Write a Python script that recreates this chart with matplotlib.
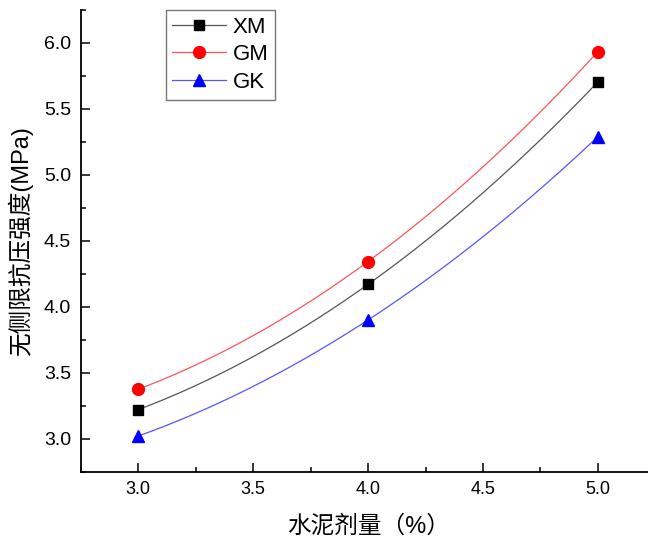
import numpy as np
import matplotlib
matplotlib.use("Agg")
import matplotlib.pyplot as plt
from matplotlib.ticker import MultipleLocator

plt.rcParams['font.family'] = ['Liberation Sans', 'Noto Sans CJK SC', 'DejaVu Sans']

cement = [3.0, 4.0, 5.0]
xm = [3.22, 4.17, 5.705]
gm = [3.375, 4.343, 5.934]
gk = [3.02, 3.90, 5.29]
series_names = ['XM', 'GM', 'GK']
x_label = '水泥剂量（%）'
y_label = '无侧限抗压强度(MPa)'

fig = plt.figure(figsize=(6.48, 5.42), dpi=100)
ax = fig.add_axes([0.1245, 0.1297, 0.887, 0.852])

styles = [
    dict(color='#000000', line='#555555', marker='s', ms=7.5),
    dict(color='#ff0000', line='#ff5555', marker='o', ms=8.5),
    dict(color='#0000ff', line='#5555ff', marker='^', ms=9),
]

xs = np.linspace(min(cement), max(cement), 200)
for name, vals, st in zip(series_names, [xm, gm, gk], styles):
    coef = np.polyfit(cement, vals, 2)
    ax.plot(xs, np.polyval(coef, xs), color=st['line'], lw=0.9, zorder=2)
    ax.plot(cement, vals, linestyle='none', marker=st['marker'], ms=st['ms'],
            color=st['color'], zorder=3)
    ax.plot([], [], color=st['line'], lw=0.9, marker=st['marker'], ms=st['ms'],
            mfc=st['color'], mec=st['color'], label=name)

ax.set_xlim(2.75, 5.25)
ax.set_ylim(2.75, 6.25)
ax.xaxis.set_major_locator(MultipleLocator(0.5))
ax.xaxis.set_minor_locator(MultipleLocator(0.25))
ax.yaxis.set_major_locator(MultipleLocator(0.5))
ax.yaxis.set_minor_locator(MultipleLocator(0.25))
ax.xaxis.set_major_formatter(matplotlib.ticker.FormatStrFormatter('%.1f'))
ax.yaxis.set_major_formatter(matplotlib.ticker.FormatStrFormatter('%.1f'))

for side in ['top', 'right']:
    ax.spines[side].set_visible(False)
for side in ['left', 'bottom']:
    ax.spines[side].set_linewidth(1.3)

ax.tick_params(which='major', direction='in', length=6.5, width=1.1, pad=7)
ax.tick_params(axis='x', which='major', labelsize=13)
ax.tick_params(axis='y', which='major', labelsize=14)
ax.tick_params(which='minor', direction='in', length=3.8, width=1.1)

ax.set_xlabel(x_label, fontsize=17, labelpad=12)
ax.set_ylabel(y_label, fontsize=17, labelpad=8)

leg = ax.legend(loc='upper left', bbox_to_anchor=(0.148, 1.0), borderaxespad=0,
                fontsize=16, handlelength=2.4, handletextpad=0.3, labelspacing=0.3,
                borderpad=0.3, fancybox=False, framealpha=1, edgecolor='#777777')
leg.get_frame().set_linewidth(1.0)

fig.savefig('out.png', dpi=100)
